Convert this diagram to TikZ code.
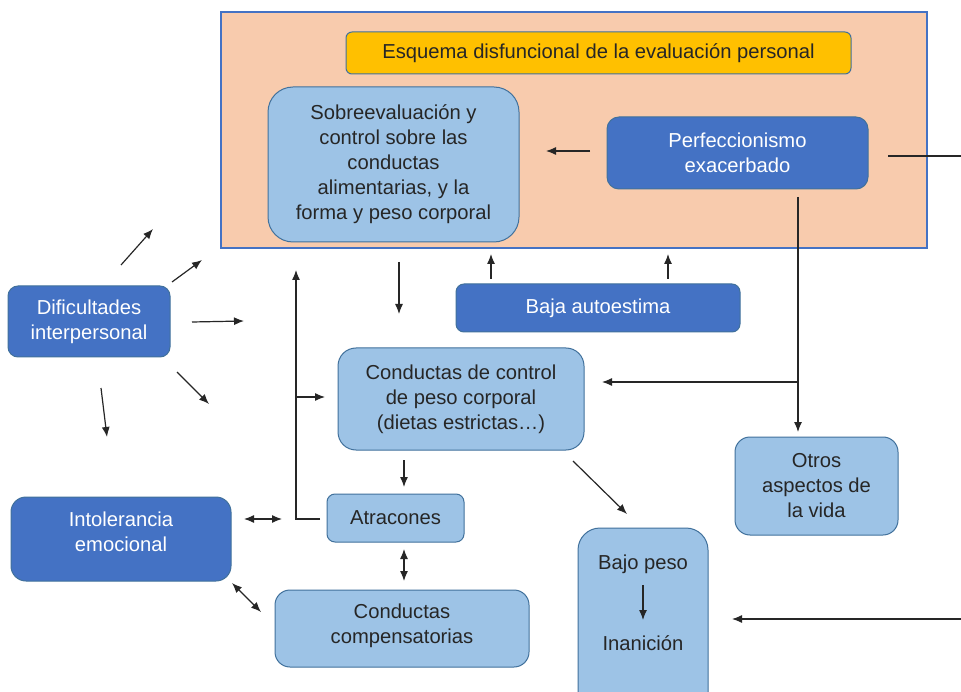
\documentclass[tikz,border=0pt]{standalone}
\usepackage{fontspec}
\setmainfont{Liberation Sans}
\usetikzlibrary{arrows.meta}
\definecolor{peach}{HTML}{F8CBAD}
\definecolor{lblue}{HTML}{9DC3E6}
\definecolor{dblue}{HTML}{4472C4}
\definecolor{bord}{HTML}{41719C}
\definecolor{gold}{HTML}{FFC000}
\definecolor{ink}{HTML}{262626}
\begin{document}
\begin{tikzpicture}[x=1pt,y=-1pt,
  txt/.style={align=center, inner sep=0pt, font=\fontsize{20.2}{25}\selectfont},
  box/.style={txt, draw=bord, line width=1pt},
  light/.style={box, fill=lblue, text=ink},
  dark/.style={box, fill=dblue, text=white},
  arr/.style={-{Latex[length=10pt,width=8pt]}, line width=1.2pt, draw=ink},
  darr/.style={{Latex[length=10pt,width=8pt]}-{Latex[length=10pt,width=8pt]}, line width=1.2pt, draw=ink},
  ln/.style={line width=1.2pt, draw=ink}]
\useasboundingbox (0,0) rectangle (961,692);
\clip (0,0) rectangle (961,692);
\fill[white] (0,0) rectangle (961,692);

% frame
\node[draw=dblue, fill=peach, line width=1.2pt, minimum width=706pt, minimum height=236pt, inner sep=0pt] (outer) at (574,130) {};
\node[box, fill=gold, text=ink, minimum width=505pt, minimum height=42pt, rounded corners=6pt] (title) at (598.5,53) {Esquema disfuncional de la evaluación personal};
\node[light, minimum width=251pt, minimum height=155pt, rounded corners=25pt] (sob) at (393.5,164.5) {Sobreevaluación y\\control sobre las\\conductas\\alimentarias, y la\\forma y peso corporal};
\node[dark, minimum width=261pt, minimum height=72pt, rounded corners=12pt] (perf) at (737.5,153) {Perfeccionismo\\exacerbado};

% other boxes
\node[dark, minimum width=284pt, minimum height=48pt, rounded corners=8pt] (baja) at (598,308) {Baja autoestima};
\node[light, minimum width=246pt, minimum height=102pt, rounded corners=18pt] (ctrl) at (461,399) {Conductas de control\\de peso corporal\\(dietas estrictas…)};
\node[dark, minimum width=162pt, minimum height=71pt, rounded corners=10pt] (dif) at (89,321.5) {Dificultades\\interpersonal};
\node[dark, minimum width=220pt, minimum height=84pt, rounded corners=15pt] (intol) at (121,539) {};
\node[txt, text=white] (intoltxt) at (121,532) {Intolerancia\\emocional};
\node[light, minimum width=137pt, minimum height=48pt, rounded corners=8pt] (atr) at (395.5,518) {Atracones};
\node[light, minimum width=254pt, minimum height=77pt, rounded corners=15pt] (comp) at (402,628.5) {};
\node[txt, text=ink] (comptxt) at (402,625.5) {Conductas\\compensatorias};
\node[light, minimum width=163pt, minimum height=98pt, rounded corners=15pt] (otros) at (816.5,486) {Otros\\aspectos de\\la vida};
\node[light, minimum width=130pt, minimum height=232pt, rounded corners=22pt] (bpbox) at (643,644) {};
\node[txt, text=ink] (bajo) at (643,564) {Bajo peso};
\node[txt, text=ink] (inan) at (643,643) {Inanición};

% coordinates
\coordinate (pA) at (590,151); \coordinate (pB) at (546,151);
\coordinate (rA) at (888,156); \coordinate (rB) at (985,156); \coordinate (rC) at (985,619); \coordinate (rD) at (732,619);
\coordinate (vA) at (798,197); \coordinate (vB) at (798,432); \coordinate (vM) at (798,382); \coordinate (vC) at (602,382);
\coordinate (bA1) at (491,279); \coordinate (bB1) at (491,254);
\coordinate (bA2) at (668,279); \coordinate (bB2) at (668,254);
\coordinate (sA) at (399,262); \coordinate (sB) at (399,314);
\coordinate (d1a) at (121,265); \coordinate (d1b) at (153,229);
\coordinate (d2a) at (172,282); \coordinate (d2b) at (202,260);
\coordinate (d3a) at (192,322); \coordinate (d3b) at (244,321);
\coordinate (d4a) at (177,372); \coordinate (d4b) at (209,404);
\coordinate (d5a) at (101,388); \coordinate (d5b) at (107,437);
\coordinate (kA) at (320,519); \coordinate (kB) at (296,519); \coordinate (kC) at (296,270);
\coordinate (kM) at (296,397); \coordinate (kD) at (325,397);
\coordinate (cA) at (404,460); \coordinate (cB) at (404,487);
\coordinate (eA) at (404,549); \coordinate (eB) at (404,581);
\coordinate (hA) at (244,519); \coordinate (hB) at (282,519);
\coordinate (gA) at (232,583); \coordinate (gB) at (261,612);
\coordinate (xA) at (573,461); \coordinate (xB) at (627,514);
\coordinate (iA) at (643,585); \coordinate (iB) at (643,620);

% connectors
\draw[arr] (pA) -- (pB);
\draw[arr] (rA) -- (rB) -- (rC) -- (rD);
\draw[arr] (vA) -- (vB);
\draw[arr] (vM) -- (vC);
\draw[arr] (bA1) -- (bB1);
\draw[arr] (bA2) -- (bB2);
\draw[arr] (sA) -- (sB);
\draw[arr] (d1a) -- (d1b);
\draw[arr] (d2a) -- (d2b);
\draw[arr] (d3a) -- (d3b);
\draw[arr] (d4a) -- (d4b);
\draw[arr] (d5a) -- (d5b);
\draw[arr] (kA) -- (kB) -- (kC);
\draw[arr] (kM) -- (kD);
\draw[arr] (cA) -- (cB);
\draw[darr] (eA) -- (eB);
\draw[darr] (hA) -- (hB);
\draw[darr] (gA) -- (gB);
\draw[arr] (xA) -- (xB);
\draw[arr] (iA) -- (iB);
\end{tikzpicture}
\end{document}
